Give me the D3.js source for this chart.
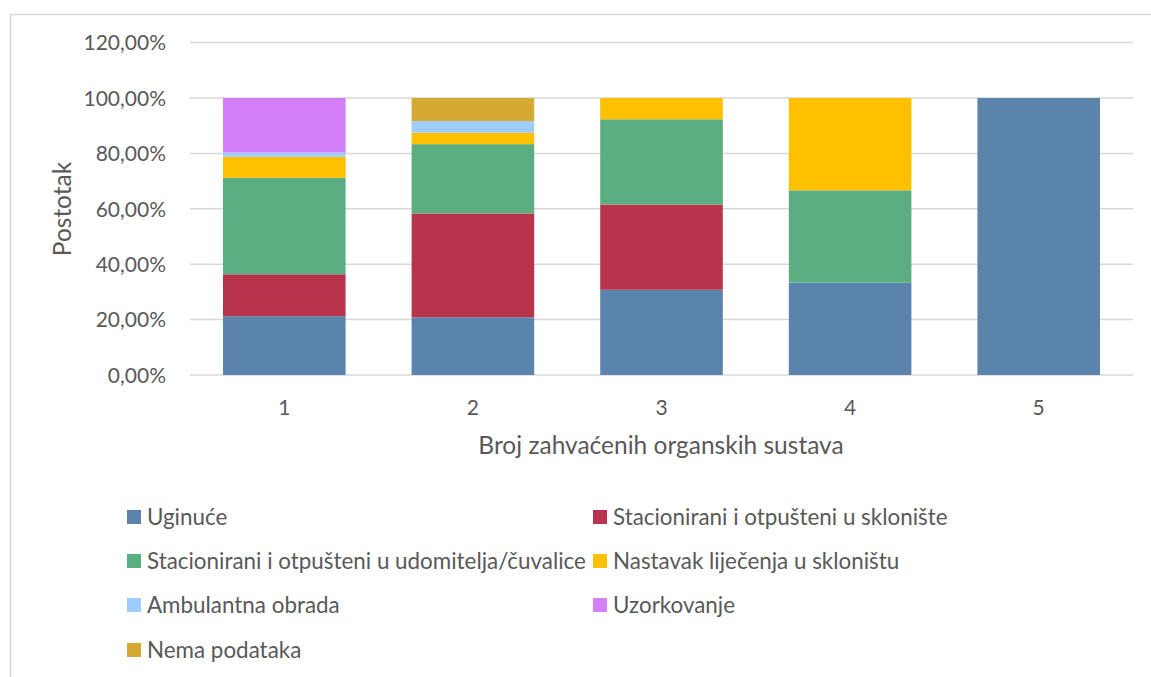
<!DOCTYPE html>
<html><head><meta charset="utf-8">
<script src="https://cdn.jsdelivr.net/npm/d3@7"></script>
<style>html,body{margin:0;padding:0;background:#fff;}svg{display:block;}</style>
</head><body>
<svg id="c" width="1151" height="677"></svg>
<script>
const categories = ["1","2","3","4","5"];
const seriesNames = ["Uginuće","Stacionirani i otpušteni u sklonište","Stacionirani i otpušteni u udomitelja/čuvalice","Nastavak liječenja u skloništu","Ambulantna obrada","Uzorkovanje","Nema podataka"];
const uginuce = [21.21, 20.83, 30.77, 33.33, 100];
const sklonisteVals = [15.15, 37.50, 30.77, 0, 0];
const udomiteljaVals = [34.85, 25.00, 30.77, 33.33, 0];
const nastavakVals = [7.58, 4.17, 7.69, 33.34, 0];
const ambulantnaVals = [1.52, 4.17, 0, 0, 0];
const uzorkovanjeVals = [19.70, 0, 0, 0, 0];
const nemaVals = [0, 8.33, 0, 0, 0];
const yTicks = [0, 20, 40, 60, 80, 100, 120];
const colors = ["#5b84ad","#b8344c","#5bae82","#ffc000","#9dcdfd","#d480fc","#d4aa32"];

const seriesVals = [uginuce, sklonisteVals, udomiteljaVals, nastavakVals, ambulantnaVals, uzorkovanjeVals, nemaVals];
const table = categories.map((c,i)=>{ const o={cat:c}; seriesNames.forEach((s,j)=>o[s]=seriesVals[j][i]); return o; });
const stack = d3.stack().keys(seriesNames)(table);

const svg = d3.select("#c");
const FONT = "Lato, 'Open Sans', sans-serif";
const TXT = "#595959";
svg.append("rect").attr("width",1151).attr("height",677).attr("fill","#fff");
svg.append("rect").attr("x",10.5).attr("y",14.5).attr("width",1160).attr("height",700)
  .attr("fill","none").attr("stroke","#d9d9d9").attr("stroke-width",1.5);

const x = d3.scaleBand().domain(categories).range([190,1133]).paddingInner(0.35).paddingOuter(0.175);
const y = d3.scaleLinear().domain([0,120]).range([375,42.6]);

// grid
svg.append("g").selectAll("line").data(yTicks).join("line")
  .attr("x1",190).attr("x2",1133).attr("y1",d=>y(d)).attr("y2",d=>y(d))
  .attr("stroke","#d9d9d9").attr("stroke-width",1.5);

// y axis labels
const fmt = v => d3.format(".2f")(v).replace(".",",")+"%";
const yAxis = d3.axisLeft(y).tickValues(yTicks).tickFormat(fmt).tickSize(0).tickPadding(0);
const yg = svg.append("g").attr("transform","translate(166,0)").call(yAxis);
yg.select(".domain").remove();
yg.selectAll("text").attr("fill",TXT).style("font-family",FONT).style("font-size","21px").attr("dy","0.35em");

// bars
svg.append("g").selectAll("g").data(stack).join("g").attr("fill",(d,i)=>colors[i])
  .selectAll("rect").data(d=>d).join("rect")
  .attr("x",d=>x(d.data.cat)).attr("width",x.bandwidth())
  .attr("y",d=>y(d[1])).attr("height",d=>y(d[0])-y(d[1]));

// x axis labels
const xAxis = d3.axisBottom(x).tickSize(0).tickPadding(0);
const xg = svg.append("g").attr("transform","translate(0,408)").call(xAxis);
xg.select(".domain").remove();
xg.selectAll("text").attr("fill",TXT).style("font-family",FONT).style("font-size","21px").attr("dy","0.35em");

// axis titles
svg.append("text").attr("x",661).attr("y",445).attr("dy","0.35em").attr("text-anchor","middle")
  .attr("fill",TXT).style("font-family",FONT).style("font-size","24.5px").text("Broj zahvaćenih organskih sustava");
svg.append("text").attr("transform","translate(62,209) rotate(-90)").attr("dy","0.35em").attr("text-anchor","middle")
  .attr("fill",TXT).style("font-family",FONT).style("font-size","24.5px").text("Postotak");

// legend
const rowsY = [517, 561, 605, 650];
const colX = [127, 593];
const lg = svg.append("g").selectAll("g").data(seriesNames).join("g")
  .attr("transform",(d,i)=>`translate(${colX[i%2]},${rowsY[Math.floor(i/2)]})`);
lg.append("rect").attr("x",0).attr("y",-7).attr("width",14).attr("height",14).attr("fill",(d,i)=>colors[i]);
lg.append("text").attr("x",20).attr("dy","0.35em").attr("fill",TXT).style("font-family",FONT).style("font-size","22.4px").text(d=>d);
</script>
</body></html>
